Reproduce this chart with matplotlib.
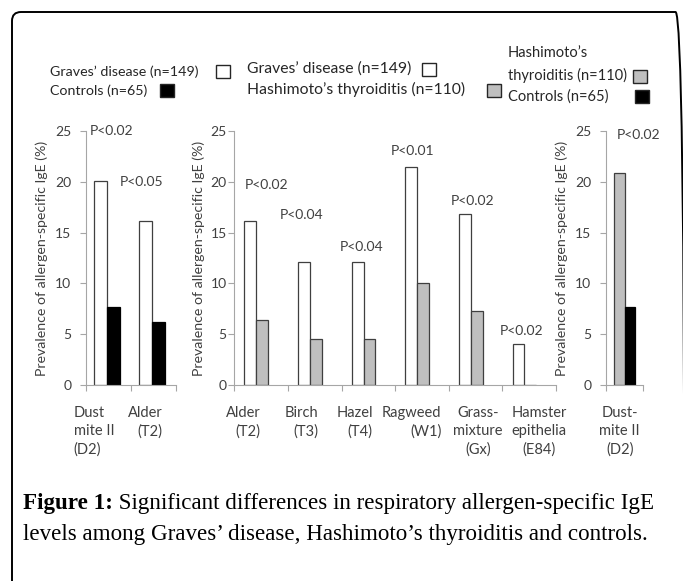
import matplotlib.pyplot as plt
from matplotlib.patches import Rectangle, FancyBboxPatch
from matplotlib.transforms import IdentityTransform

# panel 1: Graves' disease vs controls
p1_cats = ['Dust\nmite II\n(D2)', 'Alder\n(T2)']
p1_graves = [20.1, 16.1]
p1_controls = [7.7, 6.2]
p1_pvals = ['P<0.02', 'P<0.05']

# panel 2: Graves' disease vs Hashimoto's thyroiditis
p2_cats = ['Alder\n(T2)', 'Birch\n(T3)', 'Hazel\n(T4)', 'Ragweed\n(W1)',
           'Grass-\nmixture\n(Gx)', 'Hamster\nepithelia\n(E84)']
p2_graves = [16.1, 12.1, 12.1, 21.5, 16.8, 4.0]
p2_hashimoto = [6.4, 4.5, 4.5, 10.0, 7.3, 0.0]
p2_pvals = ['P<0.02', 'P<0.04', 'P<0.04', 'P<0.01', 'P<0.02', 'P<0.02']

# panel 3: Hashimoto's thyroiditis vs controls
p3_cats = ['Dust-\nmite II\n(D2)']
p3_hashimoto = [20.9]
p3_controls = [7.7]
p3_pvals = ['P<0.02']

yticks = [0, 5, 10, 15, 20, 25]
ylabel = 'Prevalence of allergen-specific IgE (%)'
lab_graves = 'Graves’ disease (n=149)'
lab_hashi = 'Hashimoto’s thyroiditis (n=110)'
lab_controls = 'Controls (n=65)'
caption_bold = 'Figure 1:'
caption_1 = ' Significant differences in respiratory allergen-specific IgE'
caption_2 = 'levels among Graves’ disease, Hashimoto’s thyroiditis and controls.'

W, H = 683, 581
SANS = ['Lato', 'DejaVu Sans']
SERIF = ['Liberation Serif', 'DejaVu Serif']
plt.rcParams['font.family'] = SANS

white, gray, black = '#FFFFFF', '#BFBFBF', '#000000'
axis_gray = '#A6A6A6'
txt = '#404040'

fig = plt.figure(figsize=(W / 100, H / 100), dpi=100)


def fx(x):
    return x / W


def fy(y):
    return 1 - y / H


def make_axes(x0, x1, n, tickpad):
    ax = fig.add_axes([fx(x0), fy(385), (x1 - x0) / W, 254 / H])
    ax.patch.set_alpha(0)
    ax.set_xlim(-0.5, n - 0.5)
    ax.set_ylim(0, 25)
    ax.set_yticks(yticks)
    ax.set_xticks([i - 0.5 for i in range(n + 1)])
    ax.set_xticklabels([])
    for s in ['top', 'right']:
        ax.spines[s].set_visible(False)
    for s in ['left', 'bottom']:
        ax.spines[s].set_color(axis_gray)
        ax.spines[s].set_linewidth(0.8)
    ax.tick_params(axis='x', length=4, color=axis_gray, width=0.8)
    ax.tick_params(axis='y', length=4, color=axis_gray, width=0.8,
                   pad=tickpad, labelsize=10, labelcolor=txt)
    return ax


def cat_labels(ax, cats, dx, aligns):
    for i, (c, d, a) in enumerate(zip(cats, dx, aligns)):
        ax.annotate(c, xy=(i + d, 0), xycoords=('data', 'axes fraction'),
                    xytext=(0, -15), textcoords='offset points',
                    ha='center', va='top', multialignment=a,
                    fontsize=10.5, color=txt, linespacing=1.4)


def p_labels(ax, pvals, xs, ys):
    for s, x, y in zip(pvals, xs, ys):
        ax.text(x, y, s, ha='center', va='center', fontsize=10, color=txt)


bar_kw = dict(edgecolor='#3F3F3F', linewidth=0.9)

# panel 1
ax1 = make_axes(86, 176, len(p1_cats), 6.5)
x1 = range(len(p1_cats))
w1 = 0.29
ax1.bar([i - 0.03 - w1 / 2 for i in x1], p1_graves, w1, color=white, **bar_kw)
ax1.bar([i - 0.03 + w1 / 2 for i in x1], p1_controls, w1, color=black,
        edgecolor=black, linewidth=0.9)
p_labels(ax1, p1_pvals, [0.07, 0.73], [25.0, 20.0])
cat_labels(ax1, p1_cats, [-0.32, -0.18], ['left', 'right'])

# panel 2
ax2 = make_axes(234.3, 556, len(p2_cats), 1.5)
x2 = range(len(p2_cats))
w2 = 0.22
ax2.bar([i + 0.02 - w2 for i in x2], p2_graves, w2, color=white, **bar_kw)
ax2.bar([i + 0.02 for i in x2], p2_hashimoto, w2, color=gray, **bar_kw)
p_labels(ax2, p2_pvals, [0.1, 0.76, 1.88, 2.83, 3.95, 4.86],
         [19.7, 16.7, 13.6, 23.05, 18.1, 5.3])
cat_labels(ax2, p2_cats, [-0.34, -0.24, -0.26, -0.19, 0.04, 0.19],
           ['right', 'right', 'right', 'right', 'center', 'center'])

# panel 3
ax3 = make_axes(606, 643.3, len(p3_cats), 6.5)
w3 = 0.29
ax3.bar([-w3 / 2], p3_hashimoto, w3, color=gray, **bar_kw)
ax3.bar([w3 / 2], p3_controls, w3, color=black, edgecolor=black, linewidth=0.9)
p_labels(ax3, p3_pvals, [0.37], [24.6])
cat_labels(ax3, p3_cats, [-0.13], ['center'])

# y axis titles
for xl in [42, 199, 562]:
    fig.text(fx(xl), fy(258), ylabel, rotation=90, ha='center', va='center',
             fontsize=10.2, color=txt)


# legends drawn as text plus small boxes
def legend_text(x, y, s, size):
    fig.text(fx(x), fy(y), s, ha='left', va='center', fontsize=size, color='#262626')


def legend_box(x, y, color):
    fig.add_artist(Rectangle((fx(x), fy(y + 6.5)), 14 / W, 13 / H,
                             transform=fig.transFigure, facecolor=color,
                             edgecolor='#262626', linewidth=1.0))


legend_text(50, 72, lab_graves, 10.3)
legend_box(216, 71, white)
legend_text(50, 91, lab_controls, 10.3)
legend_box(160, 90, black)

legend_text(247, 69, lab_graves, 11.3)
legend_box(422, 69.5, white)
legend_text(247, 89, lab_hashi, 11.3)
legend_box(487, 90, gray)

legend_text(508, 53, 'Hashimoto’s', 10.5)
legend_text(508, 75, 'thyroiditis (n=110)', 10.5)
legend_box(633, 76, gray)
legend_text(508, 97, lab_controls, 10.5)
legend_box(635, 96, black)

# caption: bold lead-in followed by plain text on the same baseline
cap = fig.text(fx(23), fy(509), caption_bold, ha='left', va='baseline',
               fontsize=16.6, weight='bold', family=SERIF, color='black')
fig.add_artist(plt.Annotation(caption_1, xy=(1, 0), xycoords=cap,
                              ha='left', va='bottom', fontsize=16.6,
                              family=SERIF, color='black'))
fig.text(fx(23), fy(540), caption_2, ha='left', va='baseline',
         fontsize=16.6, family=SERIF, color='black')

# rounded frame, bottom and right sides fall outside the picture
frame = FancyBboxPatch((12, -40), 672.5, H - 12 + 40,
                       boxstyle='round,pad=0,rounding_size=9',
                       transform=IdentityTransform(), facecolor='none',
                       edgecolor='black', linewidth=1.4)
fig.add_artist(frame)

fig.savefig('out.png', dpi=100)
